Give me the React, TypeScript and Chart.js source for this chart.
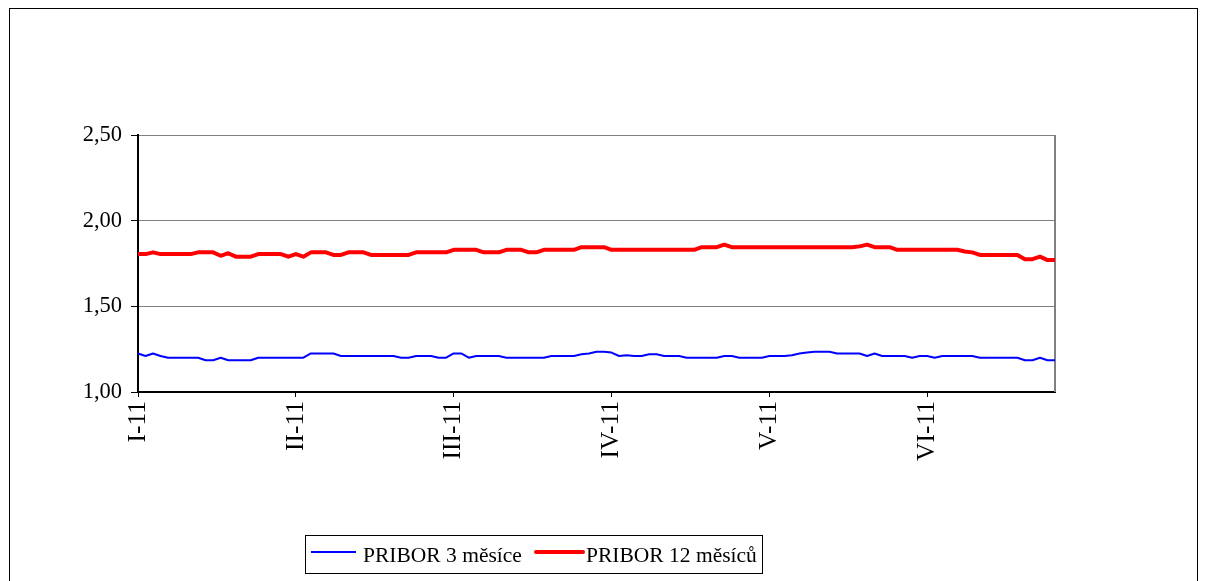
import React, { useEffect, useRef } from "react";
import { Chart, registerables } from "chart.js";

Chart.register(...registerables);

// ---- data ----
const monthLabels = ["I-11", "II-11", "III-11", "IV-11", "V-11", "VI-11"];
const pointsPerMonth = [21, 21, 21, 21, 21, 18];
const seriesNames = ["PRIBOR 3 měsíce", "PRIBOR 12 měsíců"];

const pribor3M = [
  // I-11
  1.225, 1.21, 1.225, 1.21, 1.2, 1.2, 1.2, 1.2, 1.2, 1.185, 1.185, 1.2, 1.185, 1.185, 1.185, 1.185, 1.2, 1.2, 1.2, 1.2, 1.2,
  // II-11
  1.2, 1.2, 1.225, 1.225, 1.225, 1.225, 1.21, 1.21, 1.21, 1.21, 1.21, 1.21, 1.21, 1.21, 1.2, 1.2, 1.21, 1.21, 1.21, 1.2, 1.2,
  // III-11
  1.225, 1.225, 1.2, 1.21, 1.21, 1.21, 1.21, 1.2, 1.2, 1.2, 1.2, 1.2, 1.2, 1.21, 1.21, 1.21, 1.21, 1.22, 1.225, 1.235, 1.235,
  // IV-11
  1.23, 1.21, 1.215, 1.21, 1.21, 1.22, 1.22, 1.21, 1.21, 1.21, 1.2, 1.2, 1.2, 1.2, 1.2, 1.21, 1.21, 1.2, 1.2, 1.2, 1.2,
  // V-11
  1.21, 1.21, 1.21, 1.215, 1.225, 1.23, 1.235, 1.235, 1.235, 1.225, 1.225, 1.225, 1.225, 1.21, 1.225, 1.21, 1.21, 1.21, 1.21, 1.2, 1.21,
  // VI-11
  1.21, 1.2, 1.21, 1.21, 1.21, 1.21, 1.21, 1.2, 1.2, 1.2, 1.2, 1.2, 1.2, 1.185, 1.185, 1.2, 1.185, 1.185,
];

const pribor12M = [
  // I-11
  1.805, 1.805, 1.815, 1.805, 1.805, 1.805, 1.805, 1.805, 1.815, 1.815, 1.815, 1.795, 1.81, 1.79, 1.79, 1.79, 1.805, 1.805, 1.805, 1.805, 1.79,
  // II-11
  1.805, 1.79, 1.815, 1.815, 1.815, 1.8, 1.8, 1.815, 1.815, 1.815, 1.8, 1.8, 1.8, 1.8, 1.8, 1.8, 1.815, 1.815, 1.815, 1.815, 1.815,
  // III-11
  1.83, 1.83, 1.83, 1.83, 1.815, 1.815, 1.815, 1.83, 1.83, 1.83, 1.815, 1.815, 1.83, 1.83, 1.83, 1.83, 1.83, 1.845, 1.845, 1.845, 1.845,
  // IV-11
  1.83, 1.83, 1.83, 1.83, 1.83, 1.83, 1.83, 1.83, 1.83, 1.83, 1.83, 1.83, 1.845, 1.845, 1.845, 1.86, 1.845, 1.845, 1.845, 1.845, 1.845,
  // V-11
  1.845, 1.845, 1.845, 1.845, 1.845, 1.845, 1.845, 1.845, 1.845, 1.845, 1.845, 1.845, 1.85, 1.86, 1.845, 1.845, 1.845, 1.83, 1.83, 1.83, 1.83,
  // VI-11
  1.83, 1.83, 1.83, 1.83, 1.83, 1.82, 1.815, 1.8, 1.8, 1.8, 1.8, 1.8, 1.8, 1.775, 1.775, 1.79, 1.77, 1.77,
];

const yMin = 1.0;
const yMax = 2.5;
const yStep = 0.5;

const FONT = "'Liberation Serif', 'Times New Roman', serif";
const BLUE = "#0000FF";
const RED = "#FF0000";

const plotFrame = {
  id: "plotFrame",
  beforeDatasetsDraw(chart: any) {
    const { ctx, chartArea } = chart;
    ctx.save();
    ctx.strokeStyle = "#808080";
    ctx.lineWidth = 2;
    ctx.beginPath();
    ctx.moveTo(chartArea.right, chartArea.top);
    ctx.lineTo(chartArea.right, chartArea.bottom);
    ctx.stroke();
    ctx.restore();
  },
};

// boxed legend under the chart, drawn from the dataset settings
const boxLegend = {
  id: "boxLegend",
  afterDraw(chart: any) {
    const { ctx } = chart;
    const ds = chart.data.datasets;
    const box = { x: 305.5, y: 535.5, w: 457, h: 38 };
    ctx.save();
    ctx.fillStyle = "#fff";
    ctx.fillRect(box.x, box.y, box.w, box.h);
    ctx.strokeStyle = "#000";
    ctx.lineWidth = 1;
    ctx.strokeRect(box.x, box.y, box.w, box.h);
    const items = [
      { lx: 311, lw: 45, tx: 363 },
      { lx: 536, lw: 47, tx: 586 },
    ];
    ctx.font = `21.5px ${FONT}`;
    ctx.textBaseline = "alphabetic";
    ctx.textAlign = "left";
    items.forEach((it, k) => {
      const d = ds[k];
      ctx.strokeStyle = d.borderColor;
      ctx.lineWidth = d.borderWidth;
      ctx.lineCap = k === 1 ? "round" : "butt";
      ctx.beginPath();
      ctx.moveTo(it.lx, 552);
      ctx.lineTo(it.lx + it.lw, 552);
      ctx.stroke();
      ctx.fillStyle = "#000";
      ctx.fillText(d.label, it.tx, 562);
    });
    ctx.restore();
  },
};

export default function App() {
  const canvasRef = useRef<HTMLCanvasElement>(null);

  useEffect(() => {
    const labels: string[] = [];
    const monthStart: boolean[] = [];
    monthLabels.forEach((m, k) => {
      for (let j = 0; j < pointsPerMonth[k]; j++) {
        labels.push(m);
        monthStart.push(j === 0);
      }
    });

    const chart = new Chart(canvasRef.current as HTMLCanvasElement, {
      type: "line",
      data: {
        labels,
        datasets: [
          {
            label: seriesNames[0],
            data: pribor3M,
            borderColor: BLUE,
            backgroundColor: BLUE,
            borderWidth: 2,
            pointRadius: 0,
            tension: 0,
            borderJoinStyle: "round",
          },
          {
            label: seriesNames[1],
            data: pribor12M,
            borderColor: RED,
            backgroundColor: RED,
            borderWidth: 4,
            pointRadius: 0,
            tension: 0,
            borderJoinStyle: "round",
          },
        ],
      },
      options: {
        animation: false,
        responsive: false,
        maintainAspectRatio: false,
        layout: { padding: { left: 0, top: 135, right: 151, bottom: 99 } },
        plugins: {
          legend: { display: false },
          tooltip: { enabled: false },
          title: { display: false },
        },
        scales: {
          x: {
            type: "category",
            offset: false,
            grid: {
              display: true,
              drawOnChartArea: false,
              drawTicks: true,
              tickLength: 5,
              tickColor: (c: any) => (monthStart[c.index] ? "#000" : "rgba(0,0,0,0)"),
            },
            border: { display: true, color: "#000", width: 2 },
            ticks: {
              autoSkip: false,
              maxRotation: 90,
              minRotation: 90,
              padding: 4,
              color: "#000",
              font: { family: FONT, size: 25.5 },
              callback: (_v: any, i: number) => (monthStart[i] ? labels[i] : ""),
            },
            afterFit: (s: any) => {
              s.height = 90;
            },
          },
          y: {
            min: yMin,
            max: yMax,
            ticks: {
              stepSize: yStep,
              padding: 9,
              color: "#000",
              font: { family: FONT, size: 22.5 },
              callback: (v: any) => Number(v).toFixed(2).replace(".", ","),
            },
            grid: {
              color: (c: any) => (c.tick && Math.abs(c.tick.value - yMin) < 1e-9 ? "rgba(0,0,0,0)" : "#808080"),
              tickColor: "#000",
              tickLength: 7,
              lineWidth: 1,
            },
            border: { display: true, color: "#000", width: 2 },
            afterFit: (s: any) => {
              s.width = 138;
            },
          },
        },
      } as any,
      plugins: [plotFrame, boxLegend],
    });
    return () => chart.destroy();
  }, []);

  return (
    <div
      style={{
        position: "fixed",
        left: 0,
        top: 0,
        width: 1206,
        height: 581,
        overflow: "hidden",
        background: "#fff",
      }}
    >
      <div
        style={{
          position: "absolute",
          left: 9,
          top: 8,
          width: 1189,
          height: 700,
          border: "1px solid #000",
          boxSizing: "border-box",
        }}
      />
      <canvas
        ref={canvasRef}
        width={1206}
        height={581}
        style={{ position: "absolute", left: 0, top: 0, width: 1206, height: 581 }}
      />
    </div>
  );
}
